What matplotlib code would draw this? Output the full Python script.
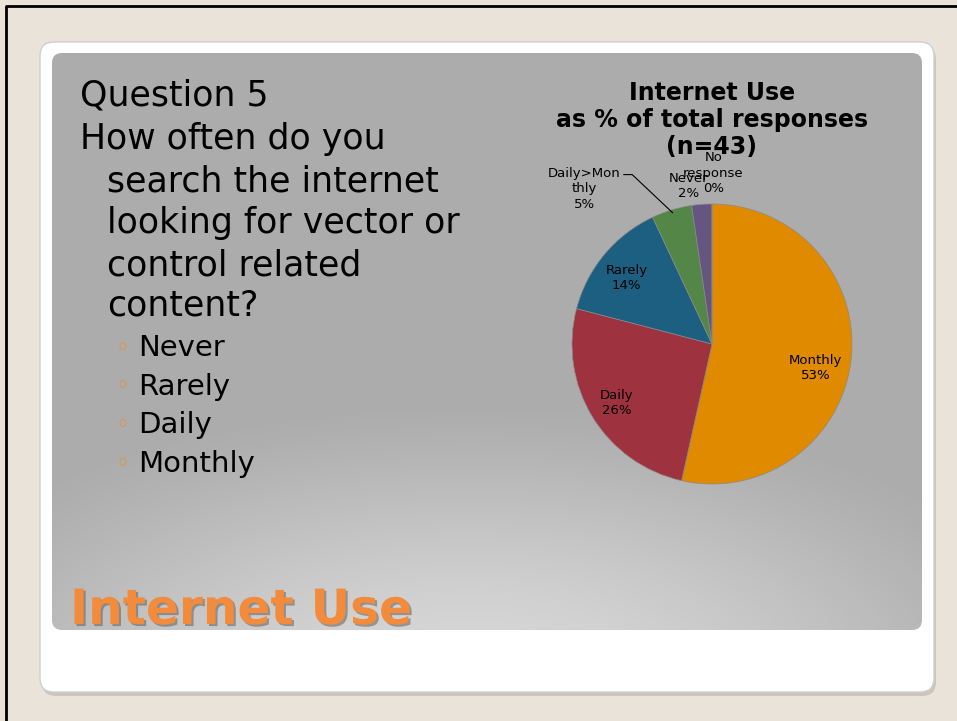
import numpy as np
import matplotlib.pyplot as plt
from matplotlib.patches import FancyBboxPatch, Rectangle
import matplotlib.patheffects as pe

# chart data
categories = ['Monthly', 'Daily', 'Rarely', 'Daily>Monthly', 'Never', 'No response']
counts = [23, 11, 6, 2, 1, 0]
pct_labels = ['Monthly\n53%', 'Daily\n26%', 'Rarely\n14%', 'Daily>Mon\nthly\n5%', 'Never\n2%', 'No\nresponse\n0%']
colors = ['#E08A00', '#9E323E', '#1C5F80', '#548647', '#665580', '#7F7F7F']

question_lines = ['Question 5', 'How often do you', 'search the internet',
                  'looking for vector or', 'control related', 'content?']
options = ['Never', 'Rarely', 'Daily', 'Monthly']

W, H = 957, 721
fig = plt.figure(figsize=(W / 100, H / 100), dpi=100)
bg = fig.add_axes([0, 0, 1, 1])
bg.axis('off')

# slide background and frame
bg.add_patch(Rectangle((0, 0), W, H, color='#EAE3D9', zorder=0))
bg.plot([6, 6, W], [H, 6, 6], color='black', lw=2, zorder=1)

# white panel with shadow
shadow = FancyBboxPatch((42, 46), 894, 650, boxstyle='round,pad=0,rounding_size=14',
                        fc='#B8B2AA', ec='none', alpha=0.6, zorder=1)
bg.add_patch(shadow)
white = FancyBboxPatch((40, 42), 894, 650, boxstyle='round,pad=0,rounding_size=14',
                       fc='white', ec='#D0D0D0', lw=1, zorder=2)
bg.add_patch(white)

# gray inner panel with radial gradient
gx, gy = np.meshgrid(np.linspace(52, 922, 300), np.linspace(53, 630, 200))
r = np.sqrt(((gx - 470) / 620) ** 2 + ((gy - 680) / 280) ** 2)
t = np.clip(1 - r, 0, 1)
shade = 0.675 + 0.17 * (3 * t ** 2 - 2 * t ** 3) ** 0.7
img = bg.imshow(np.dstack([shade, shade, shade]), extent=[52, 922, 630, 53],
                zorder=3, interpolation='bilinear')
panel = FancyBboxPatch((52, 53), 870, 577, boxstyle='round,pad=0,rounding_size=10',
                       fc='none', ec='none', transform=bg.transData)
bg.add_patch(panel)
img.set_clip_path(panel)
bg.set_xlim(0, W)
bg.set_ylim(H, 0)
bg.set_aspect('auto')

# question text
ys = [96, 139, 181, 223, 265, 306]
for i, (line, y) in enumerate(zip(question_lines, ys)):
    x = 80 if i < 2 else 107
    bg.text(x, y, line, fontsize=25, color='black', va='center', ha='left', zorder=5)
for i, opt in enumerate(options):
    y = 348 + i * 38.7
    bg.text(115, y, '\u25e6', fontsize=17, color='#F08A30', va='center', ha='left', zorder=5)
    bg.text(138, y, opt, fontsize=21, color='black', va='center', ha='left', zorder=5)

# slide title
bg.text(70, 610, 'Internet Use', fontsize=35, fontweight='bold', color='#F28C3C',
        va='center', ha='left', zorder=5,
        path_effects=[pe.withSimplePatchShadow(offset=(1.5, -1.5), shadow_rgbFace='#555555', alpha=0.5)])

# chart title
bg.text(712, 120, 'Internet Use\nas % of total responses\n(n=43)', fontsize=17,
        fontweight='bold', ha='center', va='center', linespacing=1.18, zorder=5)

# pie
cx, cy, rad = 712, 344, 140
ax = fig.add_axes([(cx - rad) / W, (H - cy - rad) / H, 2 * rad / W, 2 * rad / H])
wedges, _ = ax.pie(counts, colors=colors, startangle=90, counterclock=False, radius=1,
                   wedgeprops=dict(linewidth=0.5, edgecolor='#8A8A8A'))
ax.set_xlim(-1, 1)
ax.set_ylim(-1, 1)
ax.set_aspect('equal')
ax.axis('off')

# label positions in pie radius units
label_pos = [(0.74, -0.17), (-0.68, -0.42), (-0.61, 0.47),
             (-0.91, 1.11), (-0.17, 1.13), (0.01, 1.22)]
for lab, (tx, ty) in zip(pct_labels, label_pos):
    ax.text(tx, ty, lab, ha='center', va='center', fontsize=9.5,
            linespacing=1.25, clip_on=False)
w = wedges[3]
ang = np.deg2rad((w.theta1 + w.theta2) / 2)
ax.plot([-0.63, -0.57, np.cos(ang) * 0.98], [1.21, 1.21, np.sin(ang) * 0.98],
        color='black', lw=0.8, clip_on=False)

fig.savefig('out.png', dpi=100)
